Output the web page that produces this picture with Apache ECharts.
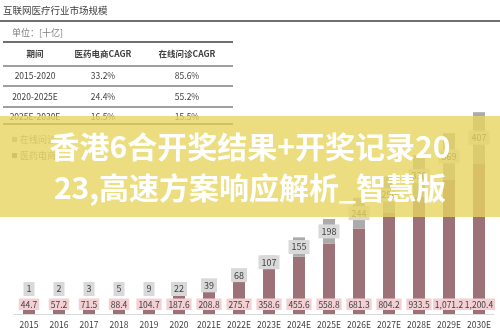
<!DOCTYPE html>
<html>
<head>
<meta charset="utf-8">
<script src="https://cdn.jsdelivr.net/npm/echarts@6/dist/echarts.min.js"></script>
<style>html,body{margin:0;padding:0;background:#fff}#c{width:500px;height:335px}</style>
</head>
<body>
<div id="c"></div>
<script>
var years = ['2015','2016','2017','2018','2019','2020','2021E','2022E','2023E','2024E','2025E','2026E','2027E','2028E','2029E','2030E'];
var ecommerce = [44.7,57.2,71.5,88.4,104.7,187.6,208.8,275.7,358.6,455.6,558.8,681.3,804.2,933.5,1071.2,1200.4];
var consult = [1,2,3,5,9,22,39,68,107,155,198,244,290,330,369,407];
var seriesNames = ['在线问诊','医药电商'];

var chartTitle = '互联网医疗行业市场规模';
var unitText = '单位：[十亿]';
var tableHeader = ['期间','医药电商CAGR','在线问诊CAGR'];
var tablePeriods = ['2015-2020','2020-2025E','2025E-2030E'];
var tableEcomCagr = ['33.2%','24.4%','16.5%'];
var tableConsultCagr = ['85.6%','55.2%','15.5%'];
var bannerLines = ['香港6合开奖结果+开奖记录20','23,高速方案响应解析_智慧版'];

var FONT = '"Noto Sans CJK SC","Noto Sans",sans-serif';
var chart = echarts.init(document.getElementById('c'), null, {renderer:'canvas'});

function fmt(v){ return v.toLocaleString('en-US',{minimumFractionDigits:1, maximumFractionDigits:1}); }

var labelData = years.map(function(y,i){ return [i, ecommerce[i]+consult[i], consult[i]]; });

var graphics = [];
graphics.push({type:'text', left:3, top:6, style:{text:chartTitle, fill:'#404040', font:'9.5px '+FONT}});
graphics.push({type:'line', shape:{x1:0,y1:21,x2:500,y2:21}, style:{stroke:'#404040', lineWidth:1.5}});
graphics.push({type:'text', left:12, top:28, style:{text:unitText, fill:'#7f7f7f', font:'9px '+FONT}});
var colX = [35,103,187];
var lineYs = [42,66,86,107,124];
lineYs.forEach(function(y,k){
  graphics.push({type:'line', shape:{x1:3,y1:y,x2:233,y2:y}, style:{stroke:'#404040', lineWidth:(k===0||k===lineYs.length-1)?1.5:1.1}});
});
tableHeader.forEach(function(t,j){
  graphics.push({type:'text', x:colX[j], y:54, style:{text:t, align:'center', verticalAlign:'middle', fill:'#404040', font:'bold 8.5px '+FONT}});
});
var rowYs = [76,97,116.5];
tablePeriods.forEach(function(p,r){
  [p, tableEcomCagr[r], tableConsultCagr[r]].forEach(function(t,j){
    graphics.push({type:'text', x:colX[j], y:rowYs[r], style:{text:t, align:'center', verticalAlign:'middle', fill:'#404040', font:'8.5px '+FONT}});
  });
});
graphics.push({type:'rect', z:100, shape:{x:0,y:116,width:500,height:101}, style:{fill:'rgba(230,212,96,0.8)'}});
graphics.push({type:'text', z:101, x:250, y:147, style:{text:bannerLines[0], align:'center', verticalAlign:'middle', fill:'#ffffff', font:'bold 30px '+FONT}});
graphics.push({type:'text', z:101, x:250, y:188, style:{text:bannerLines[1], align:'center', verticalAlign:'middle', fill:'#ffffff', font:'bold 30px '+FONT}});

var option = {
  animation:false,
  backgroundColor:'#ffffff',
  grid:{left:14, right:6, top:88, bottom:21, containLabel:false},
  legend:{
    data:[{name:seriesNames[0], icon:'rect'},{name:seriesNames[1], icon:'rect'}],
    orient:'vertical', left:7, top:130, itemWidth:5, itemHeight:5, itemGap:7,
    textStyle:{fontSize:9, color:'#7f7f7f', fontFamily:FONT, padding:[0,0,0,-2]}
  },
  xAxis:{
    type:'category', data:years,
    axisLine:{lineStyle:{color:'#d9d9d9', width:1}},
    axisTick:{show:false},
    axisLabel:{color:'#404040', fontSize:8.5, fontFamily:FONT, margin:7, interval:0}
  },
  yAxis:{type:'value', min:0, max:1800, show:false, splitLine:{show:false}},
  series:[
    {
      name:seriesNames[1], type:'bar', stack:'t', data:ecommerce, barWidth:12,
      itemStyle:{color:'#9d7178'},
      label:{show:true, position:'insideBottom', distance:4, formatter:function(p){return fmt(p.value);},
        backgroundColor:'#f2d0d4', padding:[2,2,1,2], color:'#404040', fontSize:8.5, fontFamily:FONT}
    },
    {
      name:seriesNames[0], type:'bar', stack:'t', data:consult, barWidth:12,
      itemStyle:{color:'#ababab'}
    },
    {
      type:'custom', name:'labels', data:labelData, encode:{x:0,y:1}, z:5,
      renderItem:function(params, api){
        var i = api.value(0), total = api.value(1), g = api.value(2);
        var c = api.coord([i, total - g/2]);
        var base = api.coord([i, 0]);
        var y = Math.min(c[1], base[1]-25);
        return {type:'text', x:c[0], y:y, style:{text:String(g), align:'center', verticalAlign:'middle',
          backgroundColor:'#d9d9d9', padding:[3,3,2,3], fill:'#404040', font:'9px '+FONT}};
      }
    }
  ],
  graphic:graphics
};
chart.setOption(option);
</script>
</body>
</html>
